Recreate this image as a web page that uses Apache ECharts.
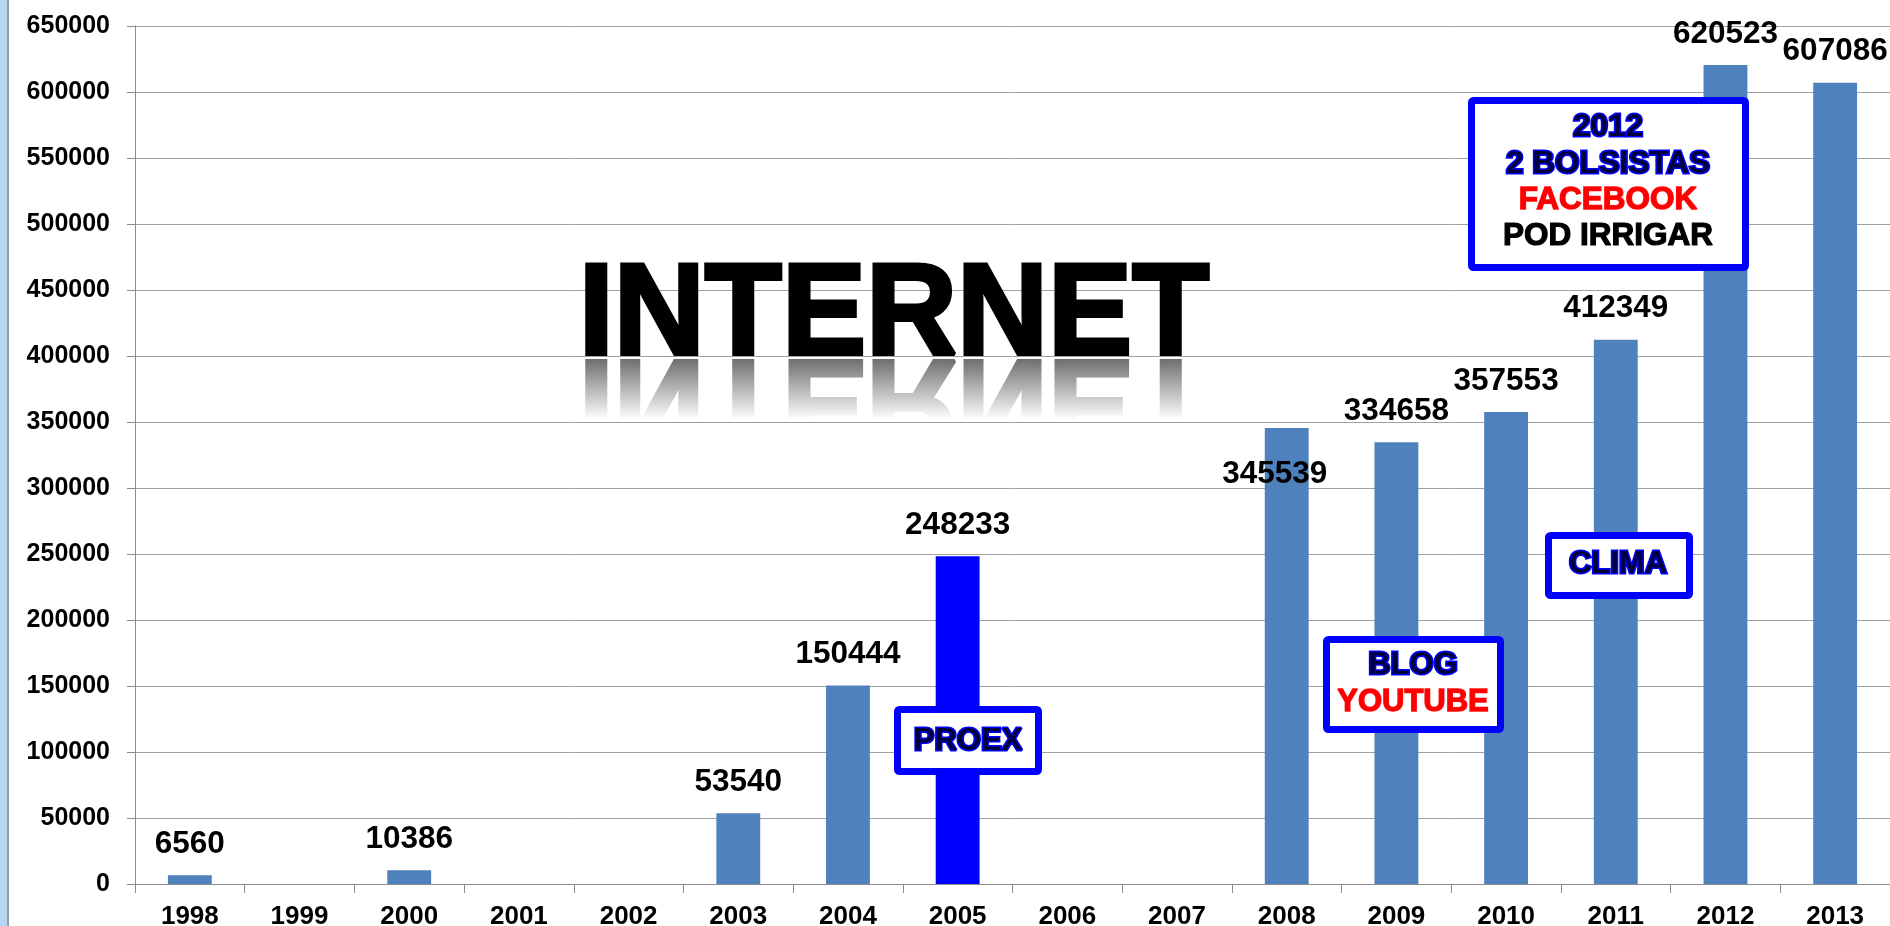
<!DOCTYPE html>
<html>
<head>
<meta charset="utf-8">
<script src="https://cdn.jsdelivr.net/npm/echarts/dist/echarts.min.js"></script>
<style>
  html, body { margin: 0; padding: 0; background: #ffffff; }
  #chart { width: 1890px; height: 926px; }
</style>
</head>
<body>
<div id="chart"></div>
<script>
// Yearly internet access counts
const years = ['1998', '1999', '2000', '2001', '2002', '2003', '2004', '2005',
               '2006', '2007', '2008', '2009', '2010', '2011', '2012', '2013'];
const visits = [6560, null, 10386, null, null, 53540, 150444, 248233,
                null, null, 345539, 334658, 357553, 412349, 620523, 607086];
const yMin = 0;
const yMax = 650000;
const yStep = 50000;
const highlightYear = '2005';
const shiftedLabelYear = '2008';

// Callout texts
const titleText = 'INTERNET';
const proexLines = ['PROEX'];
const blogLines = ['BLOG', 'YOUTUBE'];
const climaLines = ['CLIMA'];
const year2012Lines = ['2012', '2 BOLSISTAS', 'FACEBOOK', 'POD IRRIGAR'];

const FONT = '"Liberation Sans", Arial, Helvetica, sans-serif';
const BAR_COLOR = '#4F81BD';
const HIGHLIGHT_COLOR = '#0000FF';

const barData = visits.map((v, i) => {
  const item = { value: v };
  if (years[i] === highlightYear) item.itemStyle = { color: HIGHLIGHT_COLOR };
  if (years[i] === shiftedLabelYear) item.label = { offset: [-12, 77] };
  return item;
});

// Styles for callout text
const navyGlow = {
  fill: '#00003c', stroke: '#0000ff', lineWidth: 3,
  shadowColor: '#3030ff', shadowBlur: 3
};
const redPlain = { fill: '#ff0000', stroke: '#ff1010', lineWidth: 1.4 };
const blackPlain = { fill: '#000000', stroke: '#000000', lineWidth: 1.2 };

function boxRect(x, y, w, h) {
  return {
    type: 'rect', z: 5, z2: 0,
    shape: { x: x, y: y, width: w, height: h, r: 2 },
    style: { fill: '#ffffff', stroke: '#0000ff', lineWidth: 7 }
  };
}
function boxText(text, cx, cy, size, look) {
  return {
    type: 'text', z: 5, z2: 1,
    x: cx, y: cy,
    style: Object.assign({
      text: text, x: 0, y: 0,
      font: 'bold ' + size + 'px ' + FONT,
      textAlign: 'center', textVerticalAlign: 'middle', verticalAlign: 'middle'
    }, look)
  };
}

const TITLE_X = 894;
const TITLE_FONT = 'bold 130px ' + FONT;
const TITLE_SCALE_X = 0.97;

const graphicElements = [
  // slide edge strip on the left
  { type: 'rect', z: 5, shape: { x: 0, y: 0, width: 7, height: 926 },
    style: { fill: '#b4d6f2' } },
  { type: 'rect', z: 5, shape: { x: 7, y: 0, width: 2, height: 926 },
    style: { fill: '#9a9a9a' } },

  // mirrored title, faded out below
  { type: 'text', z: 0, z2: 0, x: TITLE_X, y: 397, scaleX: TITLE_SCALE_X, scaleY: -1,
    style: { text: titleText, x: 0, y: 0, font: TITLE_FONT,
      fill: '#4a4a4a', stroke: '#4a4a4a', lineWidth: 4, textAlign: 'center',
      textVerticalAlign: 'middle', verticalAlign: 'middle' } },
  { type: 'rect', z: 0, z2: 1,
    shape: { x: 560, y: 359, width: 700, height: 110 },
    style: { fill: new echarts.graphic.LinearGradient(0, 0, 0, 1, [
      { offset: 0, color: 'rgba(255,255,255,0.2)' },
      { offset: 0.55, color: 'rgba(255,255,255,1)' },
      { offset: 1, color: 'rgba(255,255,255,1)' }
    ]) } },

  // title with drop shadow
  { type: 'text', z: 5, z2: 2, x: TITLE_X, y: 318, scaleX: TITLE_SCALE_X,
    style: { text: titleText, x: 0, y: 0, font: TITLE_FONT,
      fill: '#000000', stroke: '#000000', lineWidth: 4, textAlign: 'center',
      textVerticalAlign: 'middle', verticalAlign: 'middle',
      shadowColor: 'rgba(0,0,0,0.55)', shadowBlur: 6,
      shadowOffsetX: 6, shadowOffsetY: 4 } },

  // PROEX
  boxRect(897.5, 709.5, 141, 62),
  boxText(proexLines[0], 968, 741, 31, navyGlow),

  // BLOG / YOUTUBE
  boxRect(1326.5, 639.5, 174, 90),
  boxText(blogLines[0], 1413, 665, 31, navyGlow),
  boxText(blogLines[1], 1413, 702, 31, redPlain),

  // CLIMA
  boxRect(1548.5, 535.5, 141, 60),
  boxText(climaLines[0], 1618, 564, 31, navyGlow),

  // 2012 notes
  boxRect(1471.5, 100.5, 274, 167),
  boxText(year2012Lines[0], 1608, 127, 31.5, navyGlow),
  boxText(year2012Lines[1], 1608, 164, 31.5, navyGlow),
  boxText(year2012Lines[2], 1608, 200, 31.5, redPlain),
  boxText(year2012Lines[3], 1608, 236, 31.5, blackPlain)
];

const chart = echarts.init(document.getElementById('chart'), null, { renderer: 'canvas' });
chart.setOption({
  backgroundColor: '#ffffff',
  animation: false,
  grid: {
    left: 135, right: 0, top: 26, bottom: 42,
    containLabel: false, outerBoundsMode: 'none'
  },
  xAxis: {
    type: 'category',
    data: years,
    z: 1,
    boundaryGap: true,
    axisLine: { show: true, lineStyle: { color: '#8c8c8c', width: 1 } },
    axisTick: { show: true, length: 9, alignWithLabel: false,
      lineStyle: { color: '#8c8c8c', width: 1 } },
    axisLabel: {
      interval: 0, margin: 20,
      fontFamily: FONT, fontWeight: 'bold', fontSize: 26, color: '#000000'
    },
    splitLine: { show: false }
  },
  yAxis: {
    type: 'value',
    min: yMin, max: yMax, interval: yStep,
    z: 1,
    axisLine: { show: true, lineStyle: { color: '#8c8c8c', width: 1 } },
    axisTick: { show: true, length: 8, lineStyle: { color: '#8c8c8c', width: 1 } },
    axisLabel: {
      margin: 25,
      formatter: (v) => String(v),
      fontFamily: FONT, fontWeight: 'bold', fontSize: 25, color: '#000000'
    },
    splitLine: { show: true, lineStyle: { color: '#a0a0a0', width: 1 } }
  },
  series: [{
    type: 'bar',
    data: barData,
    barWidth: '40%',
    z: 2,
    itemStyle: { color: BAR_COLOR },
    label: {
      show: true,
      position: 'top',
      distance: 15,
      fontFamily: FONT, fontWeight: 'bold', fontSize: 31.5, color: '#000000'
    }
  }],
  graphic: { elements: graphicElements }
});
</script>
</body>
</html>
